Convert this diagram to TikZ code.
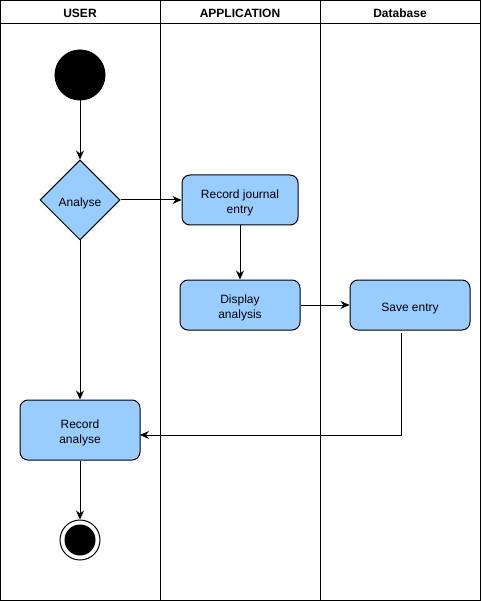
\documentclass[tikz,border=0pt]{standalone}
\usepackage{fontspec}
\setmainfont{Liberation Sans}
\usetikzlibrary{arrows.meta,shapes.geometric,calc}
\definecolor{actfill}{HTML}{99CCFF}
\newcommand{\upstrut}{\rule{0pt}{14.5pt}}
\begin{document}
\begin{tikzpicture}[x=1pt,y=-1pt,line width=1pt,
  font=\fontsize{12}{15}\selectfont,
  act/.style={draw=black,fill=actfill,rounded corners=8pt,align=center,inner sep=0pt},
  lane/.style={draw=black,line width=1pt},
  hdr/.style={font=\fontsize{12}{14}\selectfont\bfseries},
  flow/.style={draw=black,-{Stealth[length=9pt,width=8pt,inset=3pt]}}]
\useasboundingbox (0,0) rectangle (481,601);
% swimlanes
\draw[lane] (0.5,0.5) rectangle (480.5,600.5);
\draw[lane] (0.5,23.5) -- (480.5,23.5);
\draw[lane] (160.5,0.5) -- (160.5,600.5);
\draw[lane] (320.5,0.5) -- (320.5,600.5);
\node[hdr] (h1) at (80,13) {USER};
\node[hdr] (h2) at (240,13) {APPLICATION};
\node[hdr] (h3) at (400,13) {Database};
% nodes
\node[circle,fill=black,draw=black,minimum size=50pt,inner sep=0pt] (start) at (80,75) {};
\node[diamond,draw=black,fill=actfill,minimum width=80pt,minimum height=80pt,inner sep=0pt,aspect=1] (analyse) at (80,200) {\upstrut Analyse};
\node[act,minimum width=116pt,minimum height=50pt] (journal) at (240,200) {\upstrut Record journal\\entry};
\node[act,minimum width=120pt,minimum height=50pt] (display) at (240,305) {\upstrut Display\\analysis};
\node[act,minimum width=120pt,minimum height=50pt] (save) at (410,305) {\upstrut Save entry};
\node[act,minimum width=120pt,minimum height=60pt] (record) at (80,430) {\upstrut Record\\analyse};
\node[circle,draw=black,fill=white,minimum size=40pt,inner sep=0pt] (end) at (80,540) {};
\node[circle,fill=black,minimum size=31pt,inner sep=0pt] (endin) at (80,540) {};
\coordinate (sv) at (401,333);
\coordinate (rin) at (140,435);
% connectors
\draw[flow] (start) -- (analyse);
\draw[flow] (analyse.east) -- (journal.west);
\draw[flow] (journal) -- (display);
\draw[flow] (display) -- (save);
\draw[flow] (sv) |- (rin);
\draw[flow] (analyse.south) -- (record.north);
\draw[flow] (record.south) -- (end.north);
\end{tikzpicture}
\end{document}
